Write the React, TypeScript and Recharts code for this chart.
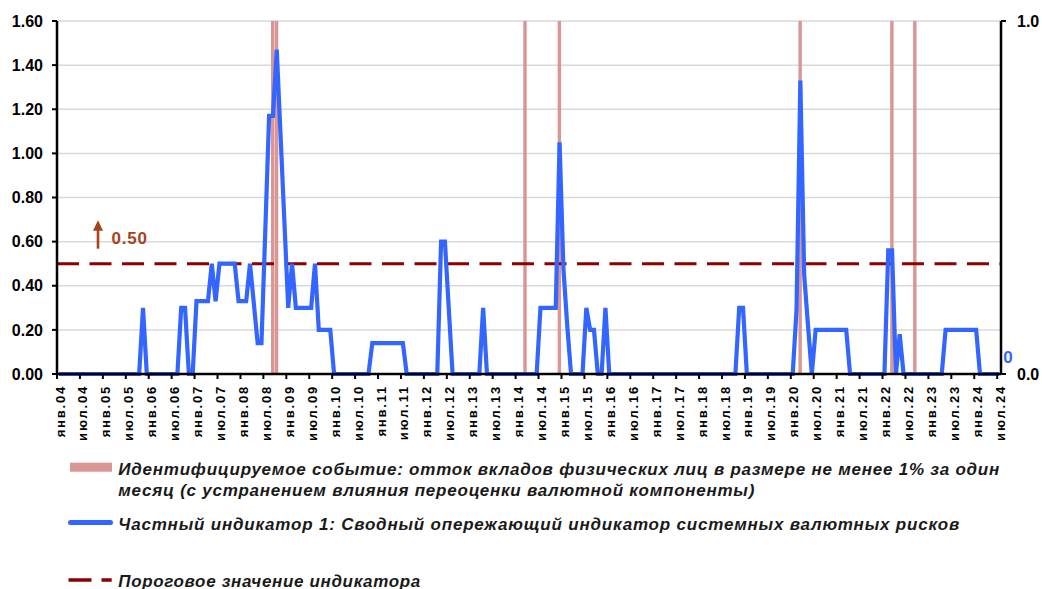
import React from "react";
import {
  ComposedChart,
  Line,
  Bar,
  XAxis,
  YAxis,
  CartesianGrid,
  ReferenceLine,
} from "recharts";

// месяцы: янв.04 – июл.24
const MONTH_NAMES = ["янв.", "фев.", "мар.", "апр.", "май.", "июн.", "июл.", "авг.", "сен.", "окт.", "ноя.", "дек."];
const YEARS = ["04", "05", "06", "07", "08", "09", "10", "11", "12", "13", "14", "15", "16", "17", "18", "19", "20", "21", "22", "23", "24"];

// Частный индикатор 1, помесячно
const IND_2004 = [0, 0, 0, 0, 0, 0, 0, 0, 0, 0, 0, 0];
const IND_2005 = [0, 0, 0, 0, 0, 0, 0, 0, 0, 0, 0.3, 0];
const IND_2006 = [0, 0, 0, 0, 0, 0, 0, 0, 0.3, 0.3, 0, 0];
const IND_2007 = [0.33, 0.33, 0.33, 0.33, 0.5, 0.33, 0.5, 0.5, 0.5, 0.5, 0.5, 0.33];
const IND_2008 = [0.33, 0.33, 0.5, 0.32, 0.14, 0.14, 0.65, 1.17, 1.17, 1.47, 1.08, 0.69];
const IND_2009 = [0.3, 0.5, 0.3, 0.3, 0.3, 0.3, 0.3, 0.5, 0.2, 0.2, 0.2, 0.2];
const IND_2010 = [0, 0, 0, 0, 0, 0, 0, 0, 0, 0, 0.14, 0.14];
const IND_2011 = [0.14, 0.14, 0.14, 0.14, 0.14, 0.14, 0.14, 0, 0, 0, 0, 0];
const IND_2012 = [0, 0, 0, 0, 0.6, 0.6, 0.3, 0, 0, 0, 0, 0];
const IND_2013 = [0, 0, 0, 0.3, 0, 0, 0, 0, 0, 0, 0, 0];
const IND_2014 = [0, 0, 0, 0, 0, 0, 0.3, 0.3, 0.3, 0.3, 0.3, 1.05];
const IND_2015 = [0.48, 0.22, 0, 0, 0, 0, 0.3, 0.2, 0.2, 0, 0, 0.3];
const IND_2016 = [0, 0, 0, 0, 0, 0, 0, 0, 0, 0, 0, 0];
const IND_2017 = [0, 0, 0, 0, 0, 0, 0, 0, 0, 0, 0, 0];
const IND_2018 = [0, 0, 0, 0, 0, 0, 0, 0, 0, 0, 0.3, 0.3];
const IND_2019 = [0, 0, 0, 0, 0, 0, 0, 0, 0, 0, 0, 0];
const IND_2020 = [0, 0.29, 1.33, 0.45, 0.22, 0, 0.2, 0.2, 0.2, 0.2, 0.2, 0.2];
const IND_2021 = [0.2, 0.2, 0.2, 0, 0, 0, 0, 0, 0, 0, 0, 0];
const IND_2022 = [0, 0.56, 0.56, 0, 0.18, 0, 0, 0, 0, 0, 0, 0];
const IND_2023 = [0, 0, 0, 0, 0.2, 0.2, 0.2, 0.2, 0.2, 0.2, 0.2, 0.2];
const IND_2024 = [0.2, 0, 0, 0, 0, 0, 0];

// Идентифицируемые события (отток вкладов)
const EVENT_MONTHS = ["сен.08", "окт.08", "мар.14", "дек.14", "мар.20", "мар.22", "сен.22"];

const THRESHOLD = 0.5;
const LEFT_TICKS = [0, 0.2, 0.4, 0.6, 0.8, 1.0, 1.2, 1.4, 1.6];
const RIGHT_TICKS = [0, 1];

const INDICATOR = [
  ...IND_2004, ...IND_2005, ...IND_2006, ...IND_2007, ...IND_2008, ...IND_2009, ...IND_2010,
  ...IND_2011, ...IND_2012, ...IND_2013, ...IND_2014, ...IND_2015, ...IND_2016, ...IND_2017,
  ...IND_2018, ...IND_2019, ...IND_2020, ...IND_2021, ...IND_2022, ...IND_2023, ...IND_2024,
];

const MONTHS = YEARS.flatMap((y) => MONTH_NAMES.map((m) => m + y)).slice(0, INDICATOR.length);

// точки стоят в середине месяца, деления оси — на границах месяцев
const rows = MONTHS.map((label, i) => ({
  t: i + 0.5,
  label,
  value: INDICATOR[i],
  event: EVENT_MONTHS.includes(label) ? 1 : null,
}));

const X_TICKS = MONTHS.map((_, i) => i).filter((i) => i % 6 === 0);

const BLUE = "#3366FF";
const PINK = "#D99694";
const DARK_RED = "#8B0000";
const ANNOT = "#A8421A";
const FONT = "'Liberation Sans', Arial, sans-serif";

function MonthTick({ x, y, payload }: any) {
  const cx = x + 3;
  return (
    <text
      x={cx}
      y={y}
      transform={`rotate(-90 ${cx} ${y})`}
      textAnchor="end"
      dominantBaseline="central"
      fontSize={13}
      fontWeight="bold"
      letterSpacing={1.8}
      fill="#000"
    >
      {MONTHS[payload.value]}
    </text>
  );
}

function ThresholdLabel({ viewBox }: any) {
  if (!viewBox) return null;
  const ax = viewBox.x + 41;
  const y = viewBox.y;
  return (
    <g>
      <line x1={ax} y1={y - 15} x2={ax} y2={y - 35} stroke={ANNOT} strokeWidth={2.6} />
      <polygon points={`${ax - 5},${y - 33} ${ax},${y - 43.5} ${ax + 5},${y - 33}`} fill={ANNOT} />
      <text x={viewBox.x + 54.5} y={y - 20} fontSize={17} fontWeight="bold" letterSpacing={0.8} fill={ANNOT}>
        {THRESHOLD.toFixed(2)}
      </text>
    </g>
  );
}

function EndLabel(p: any) {
  if (p.index !== rows.length - 1) return null;
  const x = p.x ?? p.viewBox?.x;
  const y = p.y ?? p.viewBox?.y;
  return (
    <text x={x + 9} y={y - 11.3} textAnchor="middle" fontSize={17} fontWeight="bold" fill={BLUE}>
      {String(p.value)}
    </text>
  );
}

function LegendBlock() {
  const txt = { fontSize: 17, fontWeight: "bold" as const, fontStyle: "italic" as const, fill: "#1A1A1A" };
  return (
    <svg width={1042} height={149} style={{ position: "absolute", left: 0, top: 440, fontFamily: FONT }}>
      <g transform="translate(0,-440)">
        <rect x={70} y={462.7} width={42} height={9} fill={PINK} />
        <text x={118.3} y={474.5} textLength={881} lengthAdjust="spacing" {...txt}>
          Идентифицируемое событие: отток вкладов физических лиц в размере не менее 1% за один
        </text>
        <text x={118.3} y={495.5} textLength={636} lengthAdjust="spacing" {...txt}>
          месяц (с устранением влияния переоценки валютной компоненты)
        </text>
        <line x1={70.5} y1={522.5} x2={110.5} y2={522.5} stroke={BLUE} strokeWidth={5} strokeLinecap="round" />
        <text x={118.3} y={530} textLength={841} lengthAdjust="spacing" {...txt}>
          Частный индикатор 1: Сводный опережающий индикатор системных валютных рисков
        </text>
        <line x1={68.5} y1={580} x2={111.7} y2={580} stroke={DARK_RED} strokeWidth={3.5} strokeDasharray="23 10" />
        <text x={118.3} y={586.5} textLength={302} lengthAdjust="spacing" {...txt}>
          Пороговое значение индикатора
        </text>
      </g>
    </svg>
  );
}

export default function App() {
  return (
    <div style={{ position: "absolute", left: 0, top: 0, width: 1042, height: 589, background: "#fff", fontFamily: FONT, overflow: "hidden" }}>
      <ComposedChart width={1042} height={440} data={rows} margin={{ top: 21, right: 0, bottom: 0, left: 0 }}>
        <CartesianGrid yAxisId="left" vertical={false} stroke="#D9D9D9" strokeWidth={1.5} />
        <XAxis
          type="number"
          dataKey="t"
          domain={[0, 247]}
          ticks={X_TICKS}
          interval={0}
          height={66}
          tickSize={5}
          tickMargin={6}
          axisLine={{ stroke: "#000", strokeWidth: 2.5 }}
          tickLine={{ stroke: "#000", strokeWidth: 2 }}
          tick={<MonthTick />}
        />
        <YAxis
          yAxisId="left"
          domain={[0, 1.6]}
          ticks={LEFT_TICKS}
          interval={0}
          width={57}
          tickSize={5}
          tickMargin={9}
          tickFormatter={(v: number) => v.toFixed(2)}
          axisLine={{ stroke: "#000", strokeWidth: 2.5 }}
          tickLine={{ stroke: "#000", strokeWidth: 2 }}
          tick={{ fill: "#000", fontSize: 16, fontWeight: "bold" }}
        />
        <YAxis
          yAxisId="right"
          orientation="right"
          domain={[0, 1]}
          ticks={RIGHT_TICKS}
          interval={0}
          width={41}
          tickSize={5}
          tickMargin={11}
          tickFormatter={(v: number) => v.toFixed(1)}
          axisLine={{ stroke: "#000", strokeWidth: 2.5 }}
          tickLine={{ stroke: "#000", strokeWidth: 2 }}
          tick={{ fill: "#000", fontSize: 16, fontWeight: "bold", textAnchor: "start" }}
        />
        <Bar yAxisId="right" dataKey="event" fill={PINK} barSize={4} isAnimationActive={false} />
        <ReferenceLine
          yAxisId="left"
          y={THRESHOLD}
          stroke={DARK_RED}
          strokeWidth={3}
          strokeDasharray="22 10.5"
          label={<ThresholdLabel />}
        />
        <Line
          yAxisId="left"
          type="linear"
          dataKey="value"
          stroke={BLUE}
          strokeWidth={4.2}
          dot={false}
          activeDot={false}
          isAnimationActive={false}
          label={<EndLabel />}
        />
      </ComposedChart>
      <LegendBlock />
    </div>
  );
}
